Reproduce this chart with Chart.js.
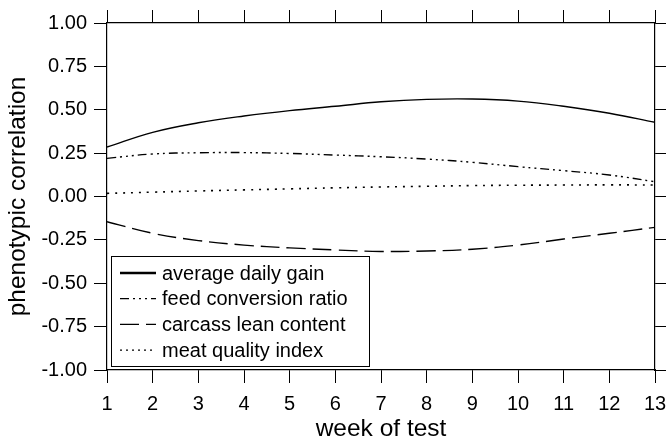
<!DOCTYPE html>
<html>
<head>
<meta charset="utf-8">
<script src="https://cdn.jsdelivr.net/npm/chart.js@4/dist/chart.umd.min.js"></script>
<style>
  html, body { margin: 0; padding: 0; background: #fff; }
  #wrap { width: 666px; height: 441px; }
</style>
</head>
<body>
<div id="wrap"><canvas id="graph" width="666" height="441"></canvas></div>
<script>
const weeks = [1,2,3,4,5,6,7,8,9,10,11,12,13];
const yTicks = ['-1.00','-0.75','-0.50','-0.25','0.00','0.25','0.50','0.75','1.00'];

const labels = ['average daily gain','feed conversion ratio','carcass lean content','meat quality index'];
const dailyGain = [0.285,0.37,0.425,0.464,0.495,0.52,0.546,0.56,0.562,0.55,0.52,0.48,0.428];
const feedConv = [0.22,0.245,0.252,0.253,0.248,0.239,0.229,0.216,0.197,0.172,0.149,0.124,0.085];
const leanContent = [-0.145,-0.212,-0.254,-0.28,-0.296,-0.308,-0.317,-0.314,-0.304,-0.28,-0.245,-0.212,-0.178];
const meatQuality = [0.018,0.025,0.032,0.038,0.044,0.05,0.055,0.059,0.063,0.065,0.066,0.067,0.066];

const FONT = "'Liberation Sans', Arial, sans-serif";

function pts(vals) {
    return vals.map((v, i) => ({x: weeks[i], y: v}));
}

function line(label, vals, dash, width) {
    return {
        label: label,
        data: pts(vals),
        borderColor: '#000',
        borderWidth: width,
        borderDash: dash,
        pointRadius: 0,
        tension: 0.4,
        fill: false
    };
}

// legend drawn inside the plot, lower left
const boxLegend = {
    id: 'boxLegend',
    afterDatasetsDraw(chart) {
        const ctx = chart.ctx;
        const a = chart.chartArea;
        const x0 = a.left + 4, w = 258, h = 110;
        const y0 = a.bottom - 4 - h;
        ctx.save();
        ctx.fillStyle = '#fff';
        ctx.fillRect(x0, y0, w, h);
        ctx.strokeStyle = '#000';
        ctx.lineWidth = 1;
        ctx.strokeRect(x0 + 0.5, y0 + 0.5, w, h);
        ctx.font = '20px ' + FONT;
        ctx.textBaseline = 'middle';
        ctx.fillStyle = '#000';
        chart.data.datasets.forEach((ds, i) => {
            const yy = y0 + 17 + i * 25.7;
            ctx.beginPath();
            ctx.setLineDash(i == 3 ? [2, 4] : ds.borderDash);
            ctx.lineWidth = i == 0 ? 2.5 : 1.3;
            ctx.moveTo(x0 + 9, yy);
            ctx.lineTo(x0 + 45, yy);
            ctx.stroke();
            ctx.setLineDash([]);
            ctx.fillText(ds.label, x0 + 51, yy + 1);
        });
        ctx.restore();
    }
};

const axisGrid = {drawOnChartArea: false, drawTicks: true, tickLength: 13, color: '#000', lineWidth: 1};
const axisBorder = {display: true, color: '#000', width: 1.2};

function noPad(s) {
    s.paddingLeft = 0; s.paddingRight = 0; s.paddingTop = 0; s.paddingBottom = 0;
}

new Chart(document.getElementById('graph').getContext('2d'), {
    type: 'line',
    data: {
        datasets: [
            line(labels[0], dailyGain, [], 1.4),
            line(labels[1], feedConv, [9,4,2,4,2,4,2,4], 1.4),
            line(labels[2], leanContent, [19,7], 1.4),
            line(labels[3], meatQuality, [2,6], 1.6)
        ]
    },
    options: {
        responsive: false,
        animation: false,
        layout: {padding: 0},
        plugins: {legend: {display: false}, tooltip: {enabled: false}},
        scales: {
            x: {
                type: 'linear', position: 'bottom', min: 1, max: 13,
                grid: axisGrid, border: axisBorder,
                ticks: {
                    stepSize: 1, color: '#000', padding: 9, maxRotation: 0,
                    font: {family: FONT, size: 20},
                    callback: (v) => weeks.includes(v) ? String(v) : ''
                },
                title: {display: true, text: 'week of test', color: '#000', font: {family: FONT, size: 24.5}, padding: {top: 0, bottom: -3}},
                afterFit: (s) => { s.height = 71; noPad(s); }
            },
            x2: {
                type: 'linear', position: 'top', min: 1, max: 13,
                grid: axisGrid, border: axisBorder,
                ticks: {stepSize: 1, display: false},
                afterFit: (s) => { s.height = 23; noPad(s); }
            },
            y: {
                type: 'linear', position: 'left', min: -1, max: 1,
                grid: axisGrid, border: axisBorder,
                ticks: {
                    stepSize: 0.25, color: '#000', padding: 7,
                    font: {family: FONT, size: 20},
                    callback: (v, i) => yTicks[i]
                },
                title: {display: true, text: 'phenotypic correlation', color: '#000', font: {family: FONT, size: 24.5}, padding: {top: 4, bottom: 0}},
                afterFit: (s) => { s.width = 107; noPad(s); }
            },
            y2: {
                type: 'linear', position: 'right', min: -1, max: 1,
                grid: axisGrid, border: axisBorder,
                ticks: {stepSize: 0.25, display: false},
                afterFit: (s) => { s.width = 11; noPad(s); }
            }
        }
    },
    plugins: [boxLegend]
});
</script>
</body>
</html>
